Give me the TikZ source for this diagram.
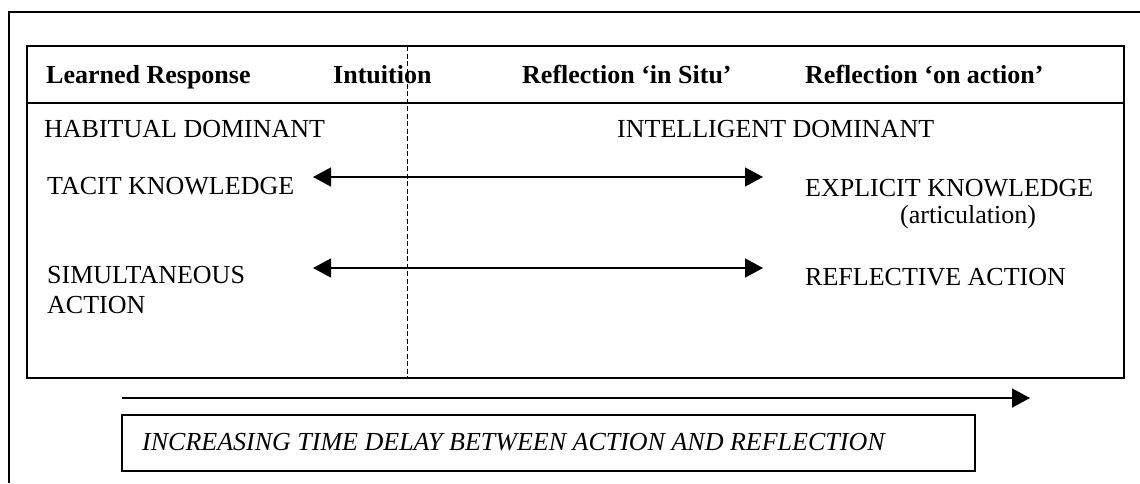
\documentclass[tikz,border=0pt]{standalone}
\usepackage{fontspec}
\setmainfont{Liberation Serif}
\usetikzlibrary{arrows.meta}
\begin{document}
\begin{tikzpicture}[x=1pt,y=-1pt,
  frameline/.style={line width=1.4pt},
  divider/.style={line width=1pt, dash pattern=on 5pt off 2.5pt},
  txt/.style={inner sep=0pt, anchor=base west, font=\fontsize{26}{30}\selectfont},
  head/.style={txt, font=\fontsize{26}{30}\selectfont\bfseries},
  link/.style={line width=1.4pt, {Triangle[length=18pt,width=19pt]}-{Triangle[length=18pt,width=19pt]}},
  flow/.style={line width=1.4pt, -{Triangle[length=18pt,width=19pt]}}]
  \useasboundingbox (0,0) rectangle (1140,483);

  % open outer frame
  \draw[frameline] (9,483) -- (9,12) -- (1140,12);

  % main table with header row and dashed divider
  \draw[frameline] (27,46) rectangle (1124,378);
  \draw[frameline] (27,103) -- (1124,103);
  \draw[divider] (407,46) -- (407,378);

  % header row
  \node[head] (hLearned) at (46,83) {Learned Response};
  \node[head] (hIntuit)  at (333,83) {Intuition};
  \node[head] (hSitu)    at (522,83) {Reflection ‘in Situ’};
  \node[head] (hAction)  at (805,83) {Reflection ‘on action’};

  % body rows
  \node[txt] (habit)  at (44,137) {HABITUAL DOMINANT};
  \node[txt] (intel)  at (617,137) {INTELLIGENT DOMINANT};
  \node[txt] (tacit)  at (47,194) {TACIT KNOWLEDGE};
  \node[txt] (expl)   at (805,196) {EXPLICIT KNOWLEDGE};
  \node[txt] (artic)  at (900,223) {(articulation)};
  \node[txt] (simul)  at (47,283) {SIMULTANEOUS};
  \node[txt] (simact) at (47,313) {ACTION};
  \node[txt] (refl)   at (805,285) {REFLECTIVE ACTION};

  % two-way arrows between the columns
  \coordinate (tacitEnd) at (313,177);
  \coordinate (explEnd)  at (763,177);
  \coordinate (simEnd)   at (313,268);
  \coordinate (reflEnd)  at (763,268);
  \draw[link] (tacitEnd) -- (explEnd);
  \draw[link] (simEnd) -- (reflEnd);

  % time axis and caption
  \coordinate (timeStart) at (122,398);
  \coordinate (timeEnd)   at (1030,398);
  \draw[flow] (timeStart) -- (timeEnd);
  \draw[line width=1.2pt] (122,415) rectangle (975,471);
  \node[txt, font=\fontsize{26}{30}\selectfont\itshape] (caption) at (142,450)
    {INCREASING TIME DELAY BETWEEN ACTION AND REFLECTION};
\end{tikzpicture}
\end{document}
